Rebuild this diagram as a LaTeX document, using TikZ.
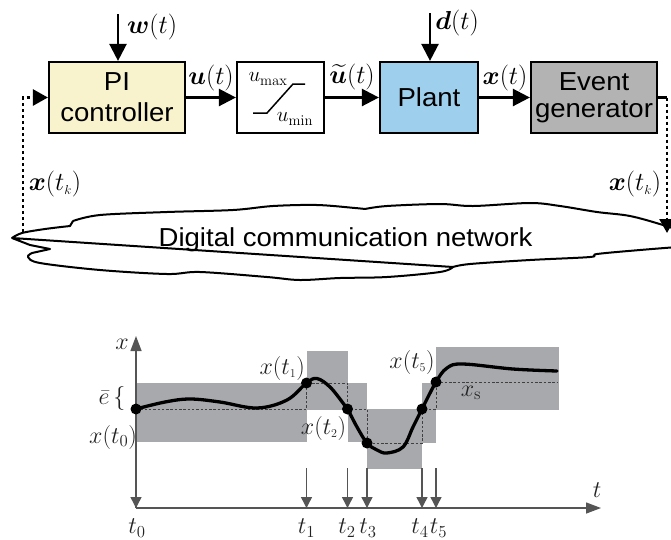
\RequirePackage{fix-cm}
\documentclass[tikz,border=0pt]{standalone}
\usepackage{amsmath,bm}
\usepackage[no-math]{fontspec}
\setmainfont{Liberation Sans}[FakeStretch=1.06]
\usetikzlibrary{arrows.meta}
\definecolor{picol}{RGB}{248,243,205}
\definecolor{plantcol}{RGB}{158,208,238}
\definecolor{evcol}{RGB}{179,179,179}
\definecolor{rectgray}{RGB}{167,169,172}
\definecolor{axcol}{RGB}{85,85,85}
\definecolor{labcol}{RGB}{34,34,34}
\tikzset{
  blk/.style={draw=black, line width=2.2pt, inner sep=0pt, align=center, font=\fontsize{26}{31}\selectfont},
  sig/.style={line width=2.4pt, -{Triangle[length=17pt,width=17pt]}},
  dotline/.style={line width=2.6pt, dash pattern=on 3pt off 3pt},
  lab/.style={font=\fontsize{26}{28}\selectfont, inner sep=0pt},
  plab/.style={font=\fontsize{24}{26}\selectfont, inner sep=0pt, text=labcol},
  axis/.style={draw=axcol, line width=1.4pt, -{Triangle[length=15pt,width=11pt]}},
  evarr/.style={draw=axcol, line width=1.4pt, -{Triangle[length=11pt,width=11pt]}},
  hold/.style={draw=black!75, line width=0.9pt, dash pattern=on 2.5pt off 1.8pt},
  dotm/.style={circle, fill=black, inner sep=0pt, minimum size=11pt},
  grect/.style={fill=rectgray, draw=none}
}
\begin{document}
\begin{tikzpicture}[x=1pt,y=-1pt]
\useasboundingbox (0,0) rectangle (671,539);
% ---------- block diagram ----------
\node[blk, fill=picol, minimum width=136pt, minimum height=71pt] (pi) at (117,97.5) {PI\\controller};
\node[blk, fill=white, minimum width=87pt, minimum height=71pt] (sat) at (280.5,97.5) {};
\node[blk, fill=plantcol, minimum width=98pt, minimum height=71pt] (plant) at (429,97.5) {Plant};
\node[blk, fill=evcol, minimum width=126pt, minimum height=71pt, font=\fontsize{26}{27}\selectfont] (ev) at (594,97.5) {Event\\generator};
% saturation characteristic
\draw[line width=1.5pt] (253,113) -- (267,113) -- (293,84) -- (305,84);
\node[font=\fontsize{21}{23}\selectfont, inner sep=0pt] (umax) at (268,79) {$u_{\max}$};
\node[font=\fontsize{21}{23}\selectfont, inner sep=0pt] (umin) at (295,119) {$u_{\min}$};
% inputs
\coordinate (wtop) at (118,14);
\coordinate (dtop) at (430,13);
\draw[sig] (wtop) -- (wtop |- pi.north);
\draw[sig] (dtop) -- (dtop |- plant.north);
\node[lab] (wl) at (152,27) {$\bm{w}(t)$};
\node[lab] (dl) at (457,23) {$\bm{d}(t)$};
% forward signals
\draw[sig] (pi) -- (sat);
\draw[sig] (sat) -- (plant);
\draw[sig] (plant) -- (ev);
\node[lab] (ul) at (211,78) {$\bm{u}(t)$};
\node[lab] (utl) at (352,77) {$\widetilde{\bm{u}}(t)$};
\node[lab] (xl) at (505,78) {$\bm{x}(t)$};
% cloud
\draw[line width=2pt, fill=white, line join=round]
  plot[smooth, tension=0.55] coordinates {(12,238) (22,233) (45,229) (70,226)}
  -- (73,221)
  plot[smooth, tension=0.55] coordinates {(73,221) (100,215) (167,212) (233,210) (273,206) (317,205) (355,208) (365,209)}
  plot[smooth, tension=0.55] coordinates {(365,209) (387,206) (440,204) (473,206) (530,203) (560,206) (597,212) (630,216) (663,225) (690,234)}
  -- (690,246)
  plot[smooth, tension=0.55] coordinates {(690,246) (640,250) (597,254) (590,257) (530,260) (470,264) (453,267)}
  plot[smooth, tension=0.55] coordinates {(453,267) (440,272) (387,277) (340,278) (300,280) (267,277) (200,272) (167,274) (100,270) (40,263) (28,257) (32,253)}
  -- (50,249) -- (30,245) -- (12,238) -- cycle;
\node[font=\fontsize{26}{28}\selectfont, inner sep=0pt] (net) at (345.5,240) {Digital communication network};
% feedback (dotted)
\coordinate (lc) at (23,232);
\coordinate (lt) at (23,97.5);
\coordinate (rc) at (667,97.5);
\coordinate (rn) at (667,233);
\draw[line width=2.4pt] (ev.east) -- (rc);
\draw[dotline, -{Triangle[length=14pt,width=15pt]}] (rc) -- (rn);
\draw[dotline, -{Triangle[length=15pt,width=16pt]}] (lc) -- (lt) -- (pi.west);
\node[lab] (xkl) at (55,184) {$\bm{x}(t_{\scriptscriptstyle k})$};
\node[lab] (xkr) at (635,184) {$\bm{x}(t_{\scriptscriptstyle k})$};
% ---------- time plot ----------
\fill[grect] (136,383) rectangle (306.5,442);
\fill[grect] (306.5,351) rectangle (347.5,410);
\fill[grect] (347.5,383) rectangle (367,442);
\fill[grect] (367,409) rectangle (422,469);
\fill[grect] (422,383) rectangle (436,443);
\fill[grect] (436,347) rectangle (559,410);
\draw[hold] (136,409) -- (306.5,409) -- (306.5,383) -- (347.5,383) -- (347.5,409) -- (367,409) -- (367,443) -- (422,443) -- (422,409) -- (436,409) -- (436,382) -- (557,382);
\coordinate (O) at (136,508);
\coordinate (xtip) at (136,336);
\coordinate (ttip) at (601,508);
\draw[axis] (O) -- (xtip);
\draw[axis] (O) -- (ttip);
\node[plab] (xax) at (122,344) {$x$};
\node[plab] (tax) at (597,490) {$t$};
% event arrows
\foreach \n/\tx/\lx in {0/136/137,1/306.5/306.5,2/347.5/347,3/367/368,4/422/420,5/436/438.5}{
  \coordinate (e\n) at (\tx,468);
  \coordinate (f\n) at (\tx,508);
  \draw[evarr] (e\n) -- (f\n);
  \node[plab] (tl\n) at (\lx,528) {$t_{\n}$};
}
% trajectory
\draw[line width=3.3pt, line cap=round] plot[smooth, tension=0.6] coordinates {
 (136,409) (165,402) (190,399) (220,402) (257,408) (287,400) (306.5,383) (317,378.5) (330,387) (343,403) (347.5,409) (357,427) (367,443) (377,450) (387,453) (403,447) (413,427) (422,409) (436,382) (447,368) (463,364) (513,369) (557,371)};
\node[dotm] (p0) at (136,409) {};
\node[dotm] (p1) at (306.5,383) {};
\node[dotm] (p2) at (347.5,409) {};
\node[dotm] (p3) at (367,443) {};
\node[dotm] (p4) at (422,409) {};
\node[dotm] (p5) at (436,382) {};
% labels
\node[plab] (eb) at (112,398) {$\bar{e}\,\{$};
\node[plab, anchor=east] (x0) at (137,437) {$x(t_0)$};
\node[plab, anchor=east] (x1) at (305,368) {$x(t_{\scriptscriptstyle 1})$};
\node[plab] (x2) at (323.5,428) {$x(t_{\scriptscriptstyle 2})$};
\node[plab] (x5) at (412,362) {$x(t_{\scriptscriptstyle 5})$};
\node[plab] (xs) at (471,393) {$x_{\mathrm{s}}$};
\end{tikzpicture}
\end{document}
